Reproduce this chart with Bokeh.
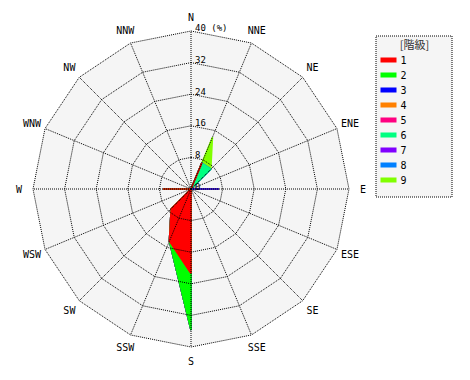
import math
from bokeh.plotting import figure
from bokeh.models import Range1d
from bokeh.core.properties import value
from bokeh.embed import file_html
from bokeh.resources import INLINE

# ---------------- data ----------------
directions = ["N", "NNE", "NE", "ENE", "E", "ESE", "SE", "SSE",
              "S", "SSW", "SW", "WSW", "W", "WNW", "NW", "NNW"]
# frequency (%) per class and direction
class_1 = [0, 7.1, 0, 0, 0, 0, 0, 0, 21.4, 14.3, 7.1, 0, 7.1, 0, 0, 0]
class_2 = [0, 0, 0, 0, 0, 0, 0, 0, 14.3, 0, 0, 0, 0, 0, 0, 0]
class_3 = [0, 0, 0, 0, 7.1, 0, 0, 0, 0, 0, 0, 0, 0, 0, 0, 0]
class_4 = [0, 0, 0, 0, 0, 0, 0, 0, 0, 0, 0, 0, 0, 0, 0, 0]
class_5 = [0, 0, 0, 0, 0, 0, 0, 0, 0, 0, 0, 0, 0, 0, 0, 0]
class_6 = [0, 0, 7.1, 0, 0, 0, 0, 0, 0, 0, 0, 0, 0, 0, 0, 0]
class_7 = [0, 0, 0, 0, 0, 0, 0, 0, 0, 0, 0, 0, 0, 0, 0, 0]
class_8 = [0, 0, 0, 0, 0, 0, 0, 0, 0, 0, 0, 0, 0, 0, 0, 0]
class_9 = [0, 7.1, 0, 0, 0, 0, 0, 0, 0, 0, 0, 0, 0, 0, 0, 0]
class_names = ["1", "2", "3", "4", "5", "6", "7", "8", "9"]
class_colors = ["#ff0000", "#00ff00", "#0000ff", "#ff8000", "#ff0080",
                "#00ff80", "#8000ff", "#0080ff", "#80ff00"]
ring_values = [8, 16, 24, 32, 40]
tick_values = [0, 8, 16, 24, 32, 40]
tick_labels = ["0", "8", "16", "24", "32", "40 (%)"]
legend_title = "[階級]"

# ---------------- layout ----------------
W, H = 462, 372
S = 3.95             # pixels per percent
CX, CY = 190.5, 188.5  # centre of rose in figure pixels (from top-left)

p = figure(width=W, height=H, output_backend="svg", toolbar_location=None,
           x_range=Range1d(-CX / S, (W - CX) / S),
           y_range=Range1d(-(H - CY) / S, CY / S),
           x_axis_location=None, y_axis_location=None,
           min_border=0, outline_line_color=None)
p.grid.visible = False
p.background_fill_color = "white"
p.border_fill_color = "white"

ang = [math.radians(22.5 * i) for i in range(16)]
sn = [math.sin(a) for a in ang]
cs = [math.cos(a) for a in ang]

rmax = ring_values[-1]
# background of the rose
p.patch([rmax * s for s in sn], [rmax * c for c in cs],
        fill_color="#f5f5f5", line_color=None)

# stacked petals (cumulative radar polygons)
data = [class_1, class_2, class_3, class_4, class_5,
        class_6, class_7, class_8, class_9]
cum = [0.0] * 16
cums = []
for vals in data:
    cum = [a + b for a, b in zip(cum, vals)]
    cums.append(cum)
for k in reversed(range(len(data))):
    c = cums[k]
    p.patch([c[i] * sn[i] for i in range(16)], [c[i] * cs[i] for i in range(16)],
            fill_color=class_colors[k], line_color=class_colors[k], line_width=1.5)

# grid rings and radials
p.multi_line(xs=[[r * s for s in sn] + [r * sn[0]] for r in ring_values],
             ys=[[r * c for c in cs] + [r * cs[0]] for r in ring_values],
             line_color="black", line_width=1, line_dash="1 1")
p.segment(x0=[0] * 16, y0=[0] * 16, x1=[rmax * s for s in sn], y1=[rmax * c for c in cs],
          line_color="black", line_width=1, line_dash="1 1")

# direction labels
rl = 172 / S
p.text(x=[rl * s for s in sn], y=[rl * c for c in cs], text=directions,
       text_align="center", text_baseline="middle",
       text_font=value("DejaVu Sans Mono"), text_font_size="10px", text_color="black")

# radial tick labels
p.text(x=[0] * len(tick_values), y=tick_values, text=tick_labels,
       x_offset=4, y_offset=-3, text_align="left", text_baseline="middle",
       text_font=value("DejaVu Sans Mono"), text_font_size="9px", text_color="black")

# ---------------- legend ----------------
def dx(px):
    return (px - CX) / S

def dy(py):
    return (CY - py) / S

p.quad(left=[dx(375.5)], right=[dx(451.5)], top=[dy(35.5)], bottom=[dy(196.5)],
       fill_color="#f5f5f5", line_color="black", line_width=1, line_dash="1 1")
p.text(x=[dx(414)], y=[dy(43)], text=[legend_title], text_align="center",
       text_baseline="middle", text_font=value("Noto Sans CJK JP"),
       text_font_size="11px", text_color="#333333")
rows = [59.5 + 15 * i for i in range(len(class_names))]
p.quad(left=[dx(380)] * 9, right=[dx(396)] * 9,
       top=[dy(r - 2.5) for r in rows], bottom=[dy(r + 2.5) for r in rows],
       fill_color=class_colors, line_color=None)
p.text(x=[dx(400)] * 9, y=[dy(r) for r in rows], text=class_names,
       text_align="left", text_baseline="middle",
       text_font=value("DejaVu Sans Mono"), text_font_size="10px", text_color="black")

open("out.html", "w").write(file_html(p, INLINE))
